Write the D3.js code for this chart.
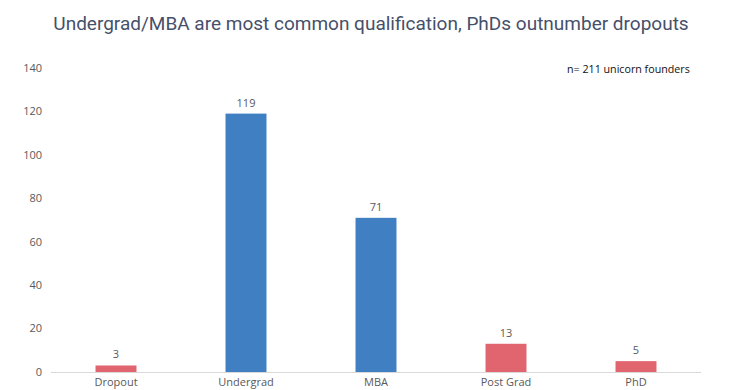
<!DOCTYPE html>
<html>
<head>
<meta charset="utf-8">
<script src="https://cdn.jsdelivr.net/npm/d3@7"></script>
<style>
	body { margin: 0; background: #fff; }
	.title { font-family: 'Roboto', sans-serif; font-size: 19px; fill: #46506a; }
	.mono { font-family: 'Open Sans', sans-serif; font-size: 11px; fill: #595959; }
	.note { font-family: 'Open Sans', sans-serif; font-size: 10.7px; fill: #111; }
</style>
</head>
<body>
<div id="chart"></div>
<script>
var categories = ['Dropout', 'Undergrad', 'MBA', 'Post Grad', 'PhD'],
	founders = [3, 119, 71, 13, 5],
	highlight = [false, true, true, false, false],
	yTicks = [0, 20, 40, 60, 80, 100, 120, 140];

var margin = { top: 68, right: 49, bottom: 18, left: 51 },
	width = 750 - margin.left - margin.right,
	height = 390 - margin.top - margin.bottom;

var svg = d3.select('#chart').append('svg')
	.attr('width', 750)
	.attr('height', 390);

svg.append('text')
	.attr('class', 'title')
	.attr('x', 371)
	.attr('y', 30)
	.style('text-anchor', 'middle')
	.text('Undergrad/MBA are most common qualification, PhDs outnumber dropouts');

var g = svg.append('g')
	.attr('transform', 'translate(' + margin.left + ',' + margin.top + ')');

var x = d3.scaleBand().domain(categories).range([0, width]).paddingInner(0.685).paddingOuter(0.3425);
var y = d3.scaleLinear().domain([0, 140]).range([height, 0]);

// y labels (no axis line)
g.selectAll('.yLabel')
	.data(yTicks)
	.enter().append('text')
	.attr('class', 'mono')
	.attr('x', -9)
	.attr('y', function(d) { return y(d); })
	.attr('dy', '0.35em')
	.style('text-anchor', 'end')
	.text(function(d) { return d; });

var data = categories.map(function(c, i) { return { cat: c, val: founders[i], hi: highlight[i] }; });

g.selectAll('.bar')
	.data(data)
	.enter().append('rect')
	.attr('x', function(d) { return x(d.cat); })
	.attr('y', function(d) { return y(d.val); })
	.attr('width', x.bandwidth())
	.attr('height', function(d) { return height - y(d.val); })
	.style('fill', function(d) { return d.hi ? '#4080c2' : '#e0656f'; });

g.selectAll('.valLabel')
	.data(data)
	.enter().append('text')
	.attr('class', 'mono')
	.attr('x', function(d) { return x(d.cat) + x.bandwidth() / 2; })
	.attr('y', function(d) { return y(d.val) - 7; })
	.style('text-anchor', 'middle')
	.text(function(d) { return d.val; });

// baseline
g.append('line')
	.attr('x1', 0).attr('x2', width)
	.attr('y1', height + 0.5).attr('y2', height + 0.5)
	.style('stroke', '#d9d9d9');

g.selectAll('.catLabel')
	.data(categories)
	.enter().append('text')
	.attr('class', 'mono')
	.attr('x', function(d) { return x(d) + x.bandwidth() / 2; })
	.attr('y', height + 14)
	.style('text-anchor', 'middle')
	.text(function(d) { return d; });

svg.append('text')
	.attr('class', 'note')
	.attr('x', 567)
	.attr('y', 73)
	.text('n= 211 unicorn founders');
</script>
</body>
</html>
